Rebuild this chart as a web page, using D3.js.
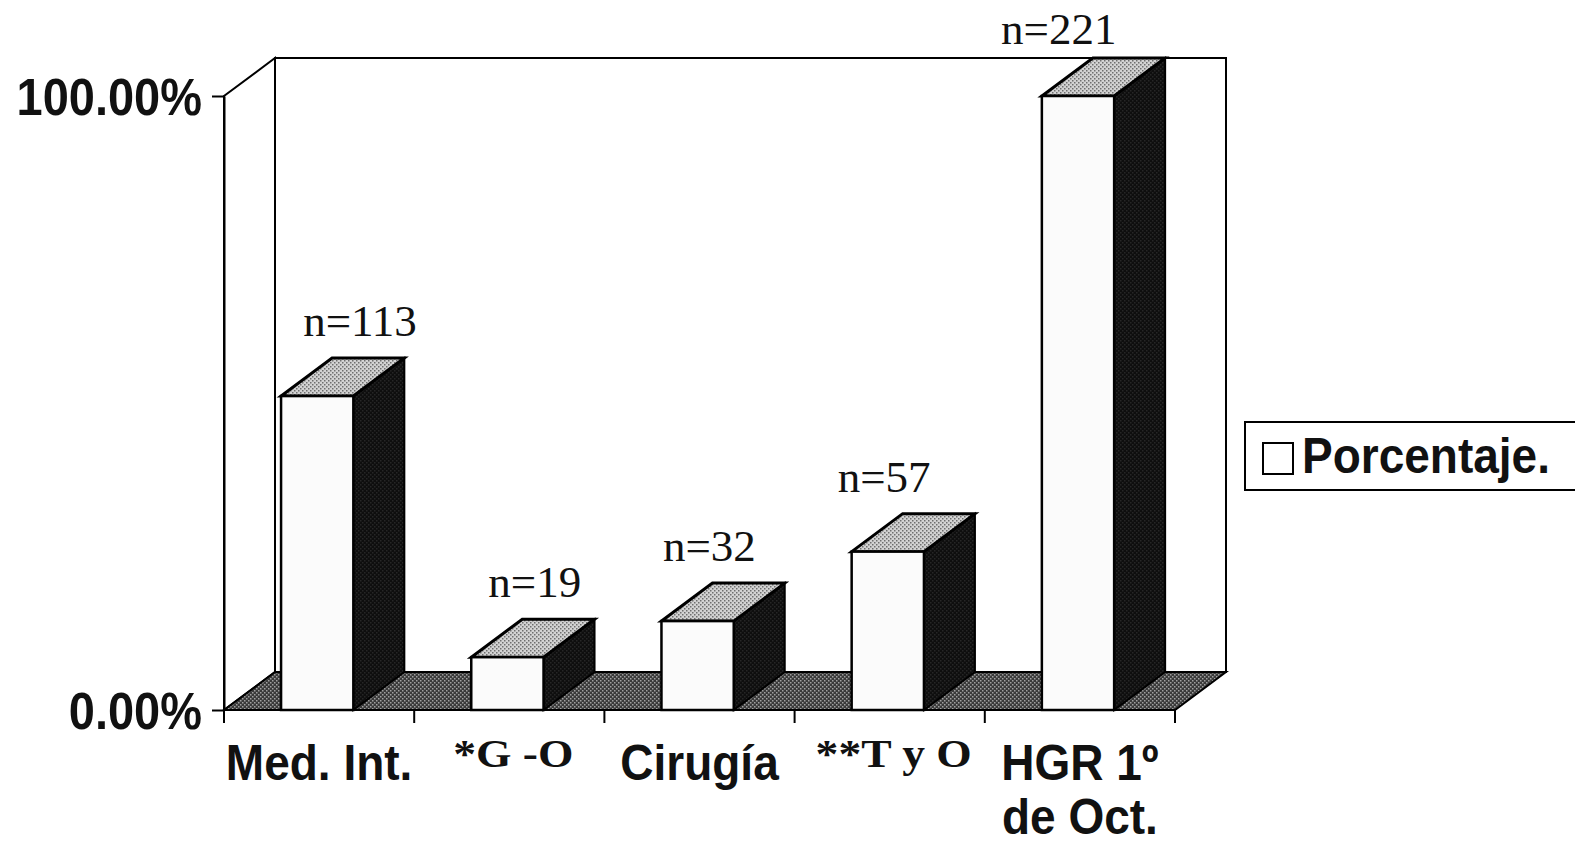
<!DOCTYPE html>
<html lang="es">
<head>
<meta charset="UTF-8">
<title>Porcentaje por servicio</title>
<script src="https://cdn.jsdelivr.net/npm/d3@7"></script>
<style>
  body { margin: 0; background: #fff; }
  .sans { font-family: "Liberation Sans", Arial, sans-serif; font-weight: bold; }
  .serif { font-family: "Liberation Serif", "Times New Roman", serif; }
</style>
</head>
<body>
<script>
// data
const categories = ['Med. Int.', '*G -O', 'Cirugía', '**T y O', 'HGR 1º de Oct.'];
const categoryLines = [['Med. Int.'], ['*G -O'], ['Cirugía'], ['**T y O'], ['HGR 1º', 'de Oct.']];
const serifCategories = ['*G -O', '**T y O'];
const counts = [113, 19, 32, 57, 221];
const percents = [51.13, 8.60, 14.48, 25.79, 100];
const yTicks = [0, 100];
const legendLabel = 'Porcentaje.';

const width = 1575;
const height = 846;
const depthX = 51;
const depthY = -38;

let svg = d3.select('body')
  .append('svg')
  .attr('width', width)
  .attr('height', height);

let x = d3.scaleBand()
  .domain(categories)
  .range([224, 1175]);

let y = d3.scaleLinear()
  .domain([0, 100])
  .range([710, 96]);

let bw = x.bandwidth();
let x0 = x.range()[0];
let x1 = x.range()[1];
let yBase = y(0);
let yTop = y(100);

// stipple patterns for the grey faces
let defs = svg.append('defs');
function stipple(id, bg, dot) {
  let p = defs.append('pattern')
    .attr('id', id)
    .attr('width', 4)
    .attr('height', 4)
    .attr('patternUnits', 'userSpaceOnUse');
  p.append('rect').attr('width', 4).attr('height', 4).attr('fill', bg);
  p.append('rect').attr('x', 0).attr('y', 0).attr('width', 1.5).attr('height', 1.5).attr('fill', dot);
  p.append('rect').attr('x', 2).attr('y', 2).attr('width', 1.5).attr('height', 1.5).attr('fill', dot);
}
stipple('floorPat', '#3a3a3a', '#a0a0a0');
stipple('topPat', '#d2d2d2', '#6e6e6e');
stipple('sidePat', '#0e0e0e', '#262626');

function poly(pts) {
  return 'M' + pts.map(p => p.join(',')).join('L') + 'Z';
}

// back wall
svg.append('rect')
  .attr('x', x0 + depthX)
  .attr('y', yTop + depthY)
  .attr('width', x1 - x0)
  .attr('height', yBase - yTop)
  .attr('fill', '#fff')
  .attr('stroke', '#000')
  .attr('stroke-width', 2);

// left side wall
svg.append('path')
  .attr('d', poly([[x0, yBase], [x0, yTop], [x0 + depthX, yTop + depthY], [x0 + depthX, yBase + depthY]]))
  .attr('fill', '#fff')
  .attr('stroke', '#000')
  .attr('stroke-width', 2);

// floor
svg.append('path')
  .attr('d', poly([[x0, yBase], [x1, yBase], [x1 + depthX, yBase + depthY], [x0 + depthX, yBase + depthY]]))
  .attr('fill', 'url(#floorPat)')
  .attr('stroke', '#000')
  .attr('stroke-width', 2);

// bars
let bars = svg.append('g').selectAll('g')
  .data(categories)
  .join('g');

bars.each(function (d, i) {
  let g = d3.select(this);
  let bx = x(d) + bw * 0.30;
  let bwid = bw * 0.38;
  let by = y(percents[i]);
  g.append('path')
    .attr('d', poly([[bx + bwid, yBase], [bx + bwid, by], [bx + bwid + depthX, by + depthY], [bx + bwid + depthX, yBase + depthY]]))
    .attr('fill', 'url(#sidePat)')
    .attr('stroke', '#000')
    .attr('stroke-width', 2);
  g.append('path')
    .attr('d', poly([[bx, by], [bx + bwid, by], [bx + bwid + depthX, by + depthY], [bx + depthX, by + depthY]]))
    .attr('fill', 'url(#topPat)')
    .attr('stroke', '#000')
    .attr('stroke-width', 3);
  g.append('rect')
    .attr('x', bx)
    .attr('y', by)
    .attr('width', bwid)
    .attr('height', yBase - by)
    .attr('fill', '#fbfbfb')
    .attr('stroke', '#000')
    .attr('stroke-width', 2.5);
});

// count labels above bars
svg.append('g').selectAll('text')
  .data(categories)
  .join('text')
  .attr('class', 'serif')
  .attr('x', (d, i) => x(d) + 136 - 15.5 * i)
  .attr('y', (d, i) => Math.max(44, y(percents[i]) - 60))
  .attr('text-anchor', 'middle')
  .attr('font-size', 45)
  .attr('fill', '#111')
  .text((d, i) => 'n=' + counts[i]);

// y axis
let yAxis = d3.axisLeft(y)
  .tickValues(yTicks)
  .tickFormat(d => d.toFixed(2) + '%')
  .tickSize(12)
  .tickSizeOuter(0)
  .tickPadding(10);

let yg = svg.append('g')
  .attr('transform', 'translate(' + x0 + ',0)')
  .call(yAxis);
yg.select('.domain').attr('stroke-width', 2);
yg.selectAll('.tick line').attr('stroke-width', 2);
yg.selectAll('.tick text')
  .attr('class', 'sans')
  .attr('font-size', 47)
  .attr('fill', '#111')
  .attr('dy', null)
  .attr('x', null)
  .attr('transform', 'translate(-22,18) scale(1,1.12)');

// x axis ticks at category boundaries
let xTicks = categories.map(d => x(d)).concat([x1]);
svg.append('g').selectAll('line')
  .data(xTicks)
  .join('line')
  .attr('x1', d => d)
  .attr('x2', d => d)
  .attr('y1', yBase)
  .attr('y2', yBase + 13)
  .attr('stroke', '#000')
  .attr('stroke-width', 2);

// category labels
let cat = svg.append('g').selectAll('g')
  .data(categories)
  .join('g')
  .attr('transform', d => 'translate(' + (x(d) + bw / 2) + ',0)');

cat.each(function (d, i) {
  let g = d3.select(this);
  if (serifCategories.includes(d)) {
    g.append('text')
      .attr('class', 'serif')
      .attr('font-weight', 'bold')
      .attr('font-size', 38)
      .attr('text-anchor', 'middle')
      .attr('fill', '#111')
      .attr('transform', 'translate(4,767) scale(1.2,1.08)')
      .text(d);
  } else {
    categoryLines[i].forEach((line, k) => {
      g.append('text')
        .attr('class', 'sans')
        .attr('font-size', 46)
        .attr('text-anchor', 'middle')
        .attr('fill', '#111')
        .attr('transform', 'translate(0,' + (780 + k * 54) + ') scale(1,1.08)')
        .text(line);
    });
  }
});

// legend
let legend = svg.append('g');
legend.append('rect')
  .attr('x', 1245)
  .attr('y', 422)
  .attr('width', 360)
  .attr('height', 68)
  .attr('fill', '#fff')
  .attr('stroke', '#000')
  .attr('stroke-width', 2);
legend.append('rect')
  .attr('x', 1263)
  .attr('y', 443)
  .attr('width', 30)
  .attr('height', 31)
  .attr('fill', '#fff')
  .attr('stroke', '#000')
  .attr('stroke-width', 2);
legend.append('text')
  .attr('class', 'sans')
  .attr('font-size', 46)
  .attr('fill', '#111')
  .attr('transform', 'translate(1302,473) scale(1,1.08)')
  .text(legendLabel);
</script>
</body>
</html>
